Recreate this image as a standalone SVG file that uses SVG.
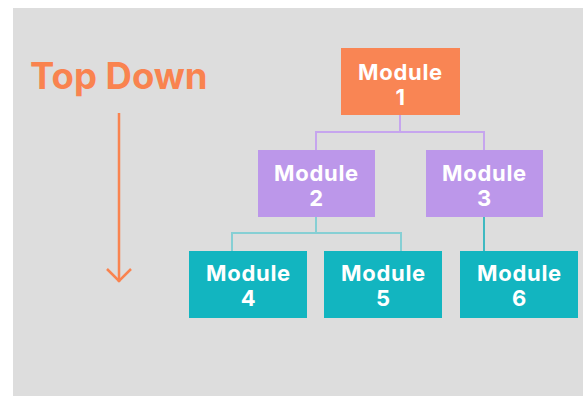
<svg xmlns="http://www.w3.org/2000/svg" width="583" height="396" viewBox="0 0 583 396">
<style>
.lbl{font-family:Inter,"Liberation Sans",sans-serif;font-weight:700;font-size:22px;letter-spacing:0.7px;fill:#ffffff;text-anchor:middle}
.title{font-family:Inter,"Liberation Sans",sans-serif;font-weight:700;font-size:36.5px;fill:#f9834f}
.cp{fill:none;stroke:#c6a5ee;stroke-width:2}
.ct{fill:none;stroke:#86cfd4;stroke-width:2}
.ct2{fill:none;stroke:#3fb9c1;stroke-width:2}
</style>
<rect x="0" y="0" width="583" height="396" fill="#ffffff"/>
<rect x="13" y="8" width="570" height="388" fill="#dddddd"/>
<g id="title">
<text class="title" x="30" y="89">Top Down</text>
<path d="M119 113 V282" stroke="#f9834f" stroke-width="2.5" fill="none"/>
<path d="M107 269 L119 281 L131 269" stroke="#f9834f" stroke-width="2.5" fill="none"/>
</g>
<g id="connectors">
<path class="cp" d="M400 115 V132 H316 V150 M400 132 H484 V150"/>
<path class="ct" d="M316 217 V233 H232 V251 M316 233 H401 V251"/>
<path class="ct2" d="M484 217 V251"/>
</g>
<g id="m1"><rect x="341" y="48" width="119" height="67" fill="#f98554"/><text class="lbl" x="400.5" y="80">Module</text><text class="lbl" x="400.5" y="105">1</text></g>
<g id="m2"><rect x="258" y="150" width="117" height="67" fill="#bc97ea"/><text class="lbl" x="316.5" y="181">Module</text><text class="lbl" x="316.5" y="206">2</text></g>
<g id="m3"><rect x="426" y="150" width="117" height="67" fill="#bc97ea"/><text class="lbl" x="484.5" y="181">Module</text><text class="lbl" x="484.5" y="206">3</text></g>
<g id="m4"><rect x="189" y="251" width="118" height="67" fill="#12b5c0"/><text class="lbl" x="248.5" y="281">Module</text><text class="lbl" x="248.5" y="306">4</text></g>
<g id="m5"><rect x="324" y="251" width="118" height="67" fill="#12b5c0"/><text class="lbl" x="383.5" y="281">Module</text><text class="lbl" x="383.5" y="306">5</text></g>
<g id="m6"><rect x="460" y="251" width="118" height="67" fill="#12b5c0"/><text class="lbl" x="519.5" y="281">Module</text><text class="lbl" x="519.5" y="306">6</text></g>
</svg>
